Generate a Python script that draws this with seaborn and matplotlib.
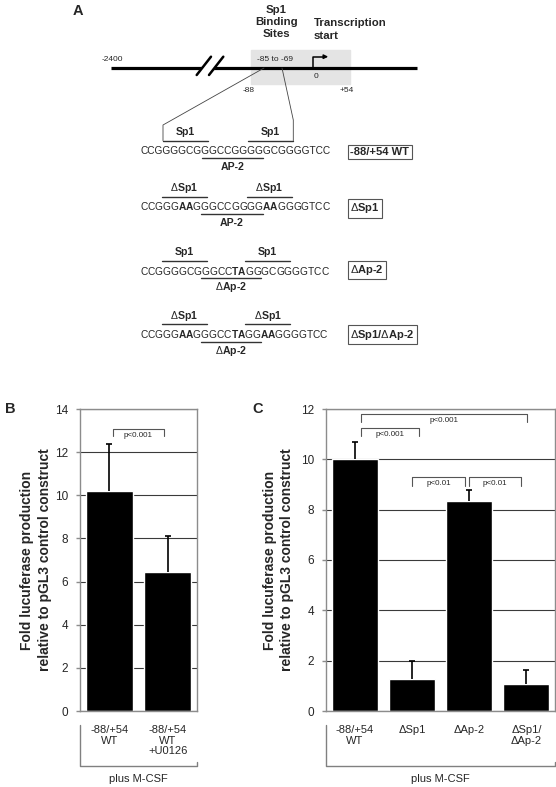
import numpy as np
import matplotlib.pyplot as plt
from matplotlib.patches import Rectangle, Polygon
import seaborn as sns

# Panel B data
b_labels = ['-88/+54\nWT', '-88/+54\nWT\n+U0126']
b_means = [10.2, 6.45]
b_err = [2.2, 1.65]

# Panel C data
c_labels = ['-88/+54\nWT', 'ΔSp1', 'ΔAp-2', 'ΔSp1/\nΔAp-2']
c_means = [10.0, 1.27, 8.35, 1.07]
c_err = [0.7, 0.72, 0.43, 0.55]

# significance brackets: (x0, x1, y, text)
b_sig = [(0.06, 0.94, 13.07, 'p<0.001')]
c_sig = [(0.12, 3.01, 11.79, 'p<0.001'),
         (0.12, 1.12, 11.23, 'p<0.001'),
         (1.01, 1.92, 9.28, 'p<0.01'),
         (1.99, 2.90, 9.28, 'p<0.01')]

# promoter sequences, mutated bases in bold
seqs = [
    r'CCGGGGCGGGCCGGGGGCGGGGTCC',
    r'CCGGG$\mathbf{AA}$GGGCCGGGG$\mathbf{AA}$GGGGTCC',
    r'CCGGGGCGGGCC$\mathbf{TA}$GGGCGGGGTCC',
    r'CCGGG$\mathbf{AA}$GGGCC$\mathbf{TA}$GG$\mathbf{AA}$GGGGTCC',
]
D = r'$\mathrm{Δ}$'
top_labels = ['Sp1', D + 'Sp1', 'Sp1', D + 'Sp1']
bot_labels = ['AP-2', 'AP-2', D + 'Ap-2', D + 'Ap-2']
constructs = ['-88/+54 WT', D + 'Sp1', D + 'Ap-2', D + 'Sp1/' + D + 'Ap-2']

sns.set_style('white')
plt.rcParams['font.family'] = ['Liberation Sans', 'DejaVu Sans']
plt.rcParams['mathtext.fontset'] = 'custom'
plt.rcParams['mathtext.rm'] = 'Liberation Sans'
plt.rcParams['mathtext.bf'] = 'Liberation Sans:bold'

fig = plt.figure(figsize=(5.56, 7.87), dpi=100)
ov = fig.add_axes([0, 0, 1, 1])
ov.set_xlim(0, 556)
ov.set_ylim(787, 0)
ov.axis('off')

# ---- panel A schematic ----
ov.text(78, 11, 'A', fontsize=10.5, fontweight='bold', ha='center', va='center')
ov.text(276.6, 22, 'Sp1\nBinding\nSites', fontsize=8.2, fontweight='bold',
        ha='center', va='center', linespacing=1.3)
ov.text(313.8, 29.5, 'Transcription\nstart', fontsize=8.2, fontweight='bold',
        ha='left', va='center', linespacing=1.3)
ov.add_patch(Rectangle((251, 50), 99, 34, color='#e4e4e4', zorder=0))
ov.plot([111, 416.7], [68.4, 68.4], color='black', lw=2.3, solid_capstyle='butt')
ov.add_patch(Polygon([(196.7, 75), (211, 56.7), (223.3, 56.7), (209, 75)],
                     color='white', zorder=3))
ov.plot([196.7, 211], [75, 56.7], color='black', lw=1.8, zorder=4)
ov.plot([209, 223.3], [75, 56.7], color='black', lw=1.8, zorder=4)
ov.text(101.8, 59.6, '-2400', fontsize=6, ha='left', va='center')
ov.text(256.7, 59.6, '-85 to -69', fontsize=6, ha='left', va='center')
ov.text(316, 76.6, '0', fontsize=6, ha='center', va='center')
ov.text(249, 91, '-88', fontsize=6, ha='center', va='center')
ov.text(346.4, 91, '+54', fontsize=6, ha='center', va='center')
ov.plot([313, 313, 324], [68, 56.7, 56.7], color='black', lw=1.1)
ov.annotate('', xy=(331, 56.7), xytext=(322, 56.7),
            arrowprops=dict(arrowstyle='-|>', lw=1.1, color='black', mutation_scale=6))
ov.plot([264, 163, 163], [68, 125, 140.7], color='#444444', lw=0.6)
ov.plot([282, 293.3, 293.3], [68, 120, 140.7], color='#444444', lw=0.6)

seq_y = [150.7, 206.5, 270.7, 334.3]
over_lines = [[(163, 207.7), (248, 292.5)], [(162, 206.7), (246.7, 291.7)],
              [(162, 206.7), (245, 290)], [(162, 206.7), (245, 290)]]
under_line = [(201.7, 262.7), (201, 262.7), (201, 261), (201, 261)]
box_y = [151.8, 208.3, 270, 334.6]
for i in range(4):
    y = seq_y[i]
    ov.text(140.5, y, seqs[i], fontsize=7.3, ha='left', va='center')
    for (a, b) in over_lines[i]:
        ov.plot([a, b], [y - 10, y - 10], color='#333333', lw=1.0)
        ov.text((a + b) / 2, y - 18.5, top_labels[i], fontsize=7.6,
                fontweight='bold', ha='center', va='center')
    a, b = under_line[i]
    ov.plot([a, b], [y + 7.2, y + 7.2], color='#333333', lw=1.0)
    ov.text((a + b) / 2, y + 16.8, bot_labels[i], fontsize=7.6,
            fontweight='bold', ha='center', va='center')
    ov.text(350.5, box_y[i], constructs[i], fontsize=8, fontweight='bold',
            ha='left', va='center',
            bbox=dict(boxstyle='square,pad=0.2', fc='none', ec='#555555', lw=0.8))


# ---- bar panels ----
def bar_panel(rect, labels, means, errs, ymax, sig, letter, letter_x):
    ax = fig.add_axes(rect)
    sns.barplot(x=labels, y=means, color='black', saturation=1, width=0.8, ax=ax)
    eb = ax.errorbar(np.arange(len(means)), means, yerr=[np.zeros(len(errs)), errs],
                     fmt='none', ecolor='black', elinewidth=1.2, capsize=2.5,
                     capthick=1.2)
    eb[1][0].set_visible(False)  # no cap at the bar top
    ax.set_xlim(-0.5, len(means) - 0.5)
    ax.set_ylim(0, ymax)
    ax.set_yticks(np.arange(0, ymax + 1, 2))
    ax.yaxis.grid(True, color='#3a3a3a', lw=0.8)
    ax.xaxis.grid(False)
    ax.set_axisbelow(True)
    for sp in ax.spines.values():
        sp.set_visible(True)
        sp.set_color('#8c8c8c')
        sp.set_linewidth(1.0)
    ax.tick_params(axis='y', length=3, color='#8c8c8c', width=1, pad=5.5,
                   labelsize=8.5, left=True)
    ax.tick_params(axis='x', length=0, pad=10, labelsize=8)
    for t in ax.get_xticklabels():
        t.set_linespacing(1.1)
    ax.set_ylabel('Fold lucuferase production\nrelative to pGL3 control construct',
                  fontsize=10, fontweight='bold', va='center', linespacing=1.3)
    ax.set_xlabel('plus M-CSF', fontsize=8, va='center')
    ax.xaxis.set_label_coords(0.5, -0.225)
    for x0, x1, y, txt in sig:
        ax.plot([x0, x0, x1, x1], [y - 0.32, y, y, y - 0.32], color='#555555',
                lw=0.8, clip_on=False)
        ax.annotate(txt, xy=((x0 + x1) / 2, y), xytext=(0, -4.4),
                    textcoords='offset points', ha='center', va='center', fontsize=5.8)
    ax.text(letter_x, 1.0, letter, transform=ax.transAxes, fontsize=10.5,
            fontweight='bold', ha='center', va='center')
    return ax


axB = bar_panel([80 / 556, 76 / 787, 117 / 556, 302 / 787], b_labels, b_means, b_err,
                14, b_sig, 'B', (10 - 80) / 117)
axB.yaxis.set_label_coords((35.9 - 80) / 117, 0.5)
axC = bar_panel([326 / 556, 76 / 787, 229 / 556, 302 / 787], c_labels, c_means, c_err,
                12, c_sig, 'C', (258 - 326) / 229)
axC.yaxis.set_label_coords((278.3 - 326) / 229, 0.5)

# category brackets under the bars
for l, r in [(80, 197), (326, 555)]:
    ov.plot([l, l, r, r], [725, 766, 766, 762], color='#808080', lw=1.0)

fig.savefig('out.png', dpi=100)
